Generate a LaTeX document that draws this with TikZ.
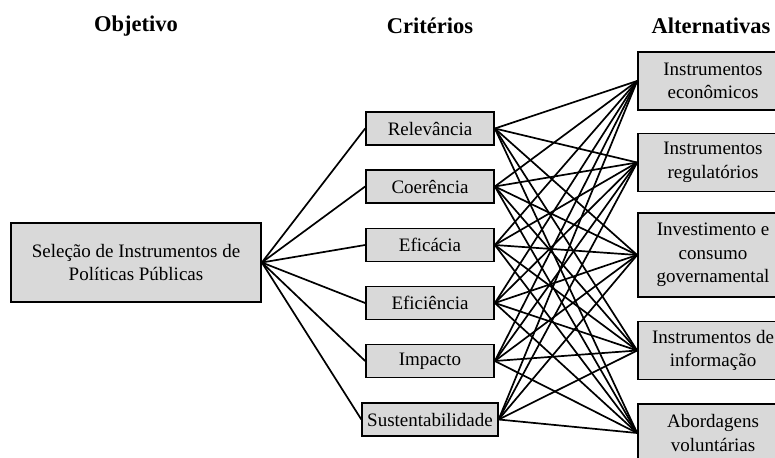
\documentclass[tikz,border=0pt]{standalone}
\usepackage{fontspec}
\setmainfont{Liberation Serif}
\definecolor{boxgray}{RGB}{217,217,217}
\tikzset{
  box/.style={draw, fill=boxgray, line width=1.7pt, align=center, inner sep=5pt,
    font=\fontsize{19}{23.5}\selectfont},
  crit/.style={box, minimum width=128pt, minimum height=33pt},
  alt/.style={box, minimum width=150pt, minimum height=58pt},
  head/.style={font=\fontsize{22.5}{26}\selectfont\bfseries},
  link/.style={line width=1.7pt}
}
\begin{document}
\begin{tikzpicture}[x=1pt, y=-1pt]
\useasboundingbox (0,0) rectangle (775,457);
% headers
\node[head] (hobj) at (136,26) {Objetivo};
\node[head] (hcrit) at (430,26) {Critérios};
\node[head] (halt) at (711,26) {Alternativas};
% objective
\node[box, minimum width=250pt, minimum height=79pt] (obj) at (136,262.5) {Seleção de Instrumentos de\\Políticas Públicas};
% criteria
\node[crit] (crt1) at (430,128.5) {Relevância};
\node[crit] (crt2) at (430,186.5) {Coerência};
\node[crit] (crt3) at (430,245) {Eficácia};
\node[crit] (crt4) at (430,303) {Eficiência};
\node[crit] (crt5) at (430,361) {Impacto};
\node[crit] (crt6) at (430,419.5) {Sustentabilidade};
% alternatives
\node[alt] (alt1) at (713,81) {Instrumentos\\econômicos};
\node[alt] (alt2) at (713,162.5) {Instrumentos\\regulatórios};
\node[alt, minimum height=84pt] (alt3) at (713,255) {Investimento e\\consumo\\governamental};
\node[alt] (alt4) at (713,350.5) {Instrumentos de\\informação};
\node[alt] (alt5) at (713,433) {Abordagens\\voluntárias};
% objective to criteria
\draw[link] (obj.east) -- (crt1.west);
\draw[link] (obj.east) -- (crt2.west);
\draw[link] (obj.east) -- (crt3.west);
\draw[link] (obj.east) -- (crt4.west);
\draw[link] (obj.east) -- (crt5.west);
\draw[link] (obj.east) -- (crt6.west);
% criteria to alternatives
\draw[link] (crt1.east) -- (alt1.west);
\draw[link] (crt1.east) -- (alt2.west);
\draw[link] (crt1.east) -- (alt3.west);
\draw[link] (crt1.east) -- (alt4.west);
\draw[link] (crt1.east) -- (alt5.west);
\draw[link] (crt2.east) -- (alt1.west);
\draw[link] (crt2.east) -- (alt2.west);
\draw[link] (crt2.east) -- (alt3.west);
\draw[link] (crt2.east) -- (alt4.west);
\draw[link] (crt2.east) -- (alt5.west);
\draw[link] (crt3.east) -- (alt1.west);
\draw[link] (crt3.east) -- (alt2.west);
\draw[link] (crt3.east) -- (alt3.west);
\draw[link] (crt3.east) -- (alt4.west);
\draw[link] (crt3.east) -- (alt5.west);
\draw[link] (crt4.east) -- (alt1.west);
\draw[link] (crt4.east) -- (alt2.west);
\draw[link] (crt4.east) -- (alt3.west);
\draw[link] (crt4.east) -- (alt4.west);
\draw[link] (crt4.east) -- (alt5.west);
\draw[link] (crt5.east) -- (alt1.west);
\draw[link] (crt5.east) -- (alt2.west);
\draw[link] (crt5.east) -- (alt3.west);
\draw[link] (crt5.east) -- (alt4.west);
\draw[link] (crt5.east) -- (alt5.west);
\draw[link] (crt6.east) -- (alt1.west);
\draw[link] (crt6.east) -- (alt2.west);
\draw[link] (crt6.east) -- (alt3.west);
\draw[link] (crt6.east) -- (alt4.west);
\draw[link] (crt6.east) -- (alt5.west);
\end{tikzpicture}
\end{document}
